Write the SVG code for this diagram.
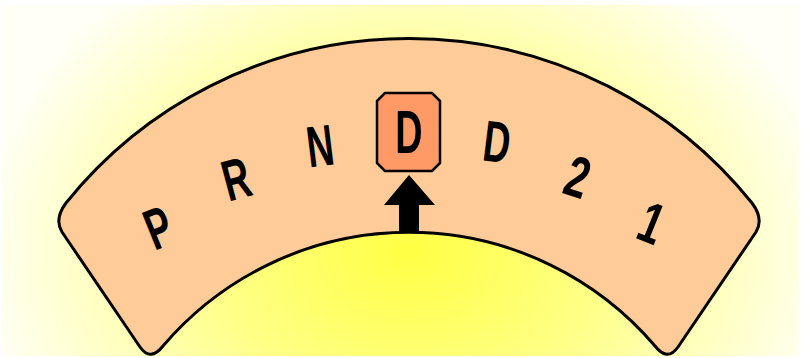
<svg xmlns="http://www.w3.org/2000/svg" width="801" height="358" viewBox="0 0 801 358">
<defs>
<radialGradient id="bg" gradientUnits="userSpaceOnUse" cx="410" cy="250" r="430" gradientTransform="translate(410 250) scale(1 0.8) translate(-410 -250)">
<stop offset="0" stop-color="#FFFF44"/>
<stop offset="0.45" stop-color="#FFFF88"/>
<stop offset="1" stop-color="#FFFFF6"/>
</radialGradient>
<style>
.lbl{font-family:"Liberation Sans",Arial,sans-serif;font-weight:bold;font-size:58px;fill:#000;text-anchor:middle}
.plate{fill:#FFCC99;stroke:#000;stroke-width:3;stroke-linejoin:round}
.sel{fill:#FF9966;stroke:#000;stroke-width:2.5;stroke-linejoin:round}
</style>
</defs>
<rect x="0" y="0" width="801" height="358" fill="#FFFFFF"/>
<rect x="2" y="5" width="797" height="351" fill="url(#bg)"/>
<g id="plate">
<path class="plate" d="M66,203 A440,440 0 0 1 752,203 Q764,219 756,232 L678,347 Q667.5,362 655,346 A323,323 0 0 0 163,346 Q150.5,362 140,347 L62,232 Q54,219 66,203 Z"/>
</g>
<g id="node-P"><text class="lbl" transform="translate(158,227) rotate(-22) scale(0.64,1)" x="0" y="21">P</text></g>
<g id="node-R"><text class="lbl" transform="translate(236,178) rotate(-15) scale(0.64,1)" x="0" y="21">R</text></g>
<g id="node-N"><text class="lbl" transform="translate(320,145) rotate(-7) scale(0.64,1)" x="0" y="21">N</text></g>
<g id="node-D-selected">
<path class="sel" d="M385,93 L432,93 L440,101 L440,163 L432,171 L385,171 L377,163 L377,101 Z"/>
<text class="lbl" transform="translate(409,131) scale(0.62,1)" x="0" y="22" style="font-size:61px">D</text>
</g>
<g id="node-D"><text class="lbl" transform="translate(497,141) rotate(7) scale(0.64,1)" x="0" y="21">D</text></g>
<g id="node-2"><text class="lbl" transform="translate(578,176) rotate(18) scale(0.7,1)" x="0" y="21">2</text></g>
<g id="node-1"><text class="lbl" transform="translate(652,222) rotate(22) scale(0.7,1)" x="0" y="21">1</text></g>
<g id="connectors">
<path d="M409,175 L435,205 L419,205 L419,233 L399,233 L399,205 L384,205 Z" fill="#000"/>
</g>
</svg>
